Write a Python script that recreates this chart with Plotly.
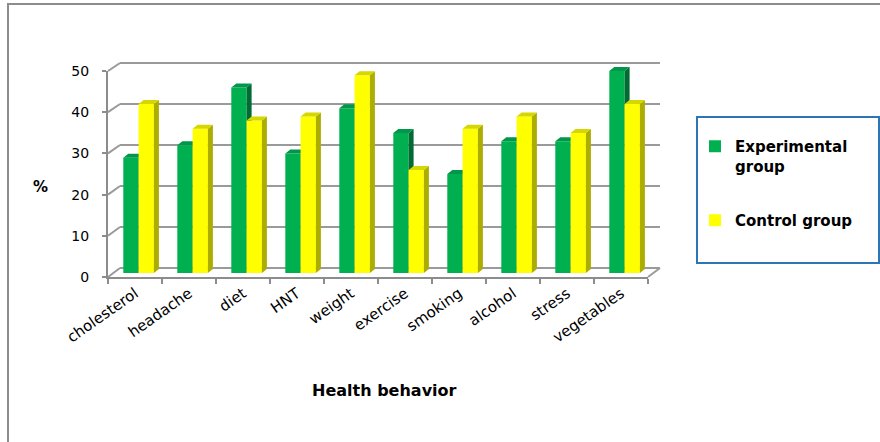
import plotly.graph_objects as go

# ---- data ----
categories = ["cholesterol", "headache", "diet", "HNT", "weight",
              "exercise", "smoking", "alcohol", "stress", "vegetables"]
experimental = [28, 31, 45, 29, 40, 34, 24, 32, 32, 49]
control = [41, 35, 37, 38, 48, 25, 35, 38, 34, 41]
series_names = ["Experimental<br>group", "Control group"]
y_ticks = [0, 10, 20, 30, 40, 50]
x_title = "Health behavior"
y_title = "%"

# ---- geometry (pixels) ----
W, H = 880, 442
def fx(p):
    return p / W
def fy(p):
    return 1 - p / H

FRONT_L, FRONT_R = 108, 648
FRONT_Y0, FRONT_PPU = 277, 4.12     # front axis: 0 at y=277
BACK_L, BACK_R = 120, 660
BACK_Y0, BACK_PPU = 268, 4.1        # back wall grid: 0 at y=268
BAR_Y0, BAR_PPU = 273, 4.12         # bar bases
CAT_PX = (FRONT_R - FRONT_L) / len(categories)

BAR_W = 15.3 / CAT_PX
OFF_G = -11.7 / CAT_PX
OFF_Y = OFF_G + BAR_W
DX = 5 / CAT_PX
DY = 4 / BAR_PPU
YMAX_BAR = 52

FONT = "DejaVu Sans"
GRAY = "#8c8c8c"
GRID = "#9a9a9a"

def faces(values, offset):
    sx, sy, tx, ty = [], [], [], []
    for i, v in enumerate(values):
        xl = i + offset
        xr = xl + BAR_W
        sx += [xr, xr + DX, xr + DX, xr, xr, None]
        sy += [0, DY, v + DY, v, 0, None]
        tx += [xl, xl + DX, xr + DX, xr, xl, None]
        ty += [v, v + DY, v + DY, v, v, None]
    return sx, sy, tx, ty

fig = go.Figure()

# placeholder traces so that the back wall and front-axis subplots get drawn
fig.add_trace(go.Scatter(x=[None], y=[None], xaxis="x", yaxis="y",
                         showlegend=False, hoverinfo="skip"))
fig.add_trace(go.Scatter(x=[None], y=[None], xaxis="x4", yaxis="y4",
                         showlegend=False, hoverinfo="skip"))

def add_series(values, offset, name, front, side, top, xa, ya, group):
    idx = list(range(len(values)))
    fig.add_trace(go.Bar(x=idx, y=values, name=name, offset=offset, width=BAR_W,
                         marker=dict(color=front, line=dict(width=0)),
                         xaxis=xa, yaxis=ya, legendgroup=group,
                         hovertext=categories, hoverinfo="text+y"))
    sx, sy, tx, ty = faces(values, offset)
    for fxs, fys, col in ((sx, sy, side), (tx, ty, top)):
        fig.add_trace(go.Scatter(x=fxs, y=fys, mode="lines", fill="toself",
                                 fillcolor=col, line=dict(width=0, color=col),
                                 xaxis=xa, yaxis=ya, showlegend=False,
                                 legendgroup=group, hoverinfo="skip"))

add_series(experimental, OFF_G, series_names[0], "#00B050", "#006B33", "#00974A", "x2", "y2", "exp")
add_series(control, OFF_Y, series_names[1], "#FFFF00", "#ADAD00", "#D6D600", "x3", "y3", "ctl")

hidden = dict(visible=False, showgrid=False, zeroline=False)
n = len(categories)

fig.update_layout(
    width=W, height=H, autosize=False,
    margin=dict(l=0, r=0, t=0, b=0, pad=0, autoexpand=False),
    paper_bgcolor="white", plot_bgcolor="rgba(0,0,0,0)",
    barmode="overlay",
    font=dict(family=FONT, color="#000000"),
    # back wall with gridlines
    xaxis=dict(domain=[fx(BACK_L), fx(BACK_R)], range=[0, 1], anchor="y",
               showgrid=False, zeroline=False, showticklabels=False, showline=False,
               ticks=""),
    yaxis=dict(domain=[fy(BACK_Y0 + 0.5 * BACK_PPU), fy(BACK_Y0 - 50.5 * BACK_PPU)],
               range=[-0.5, 50.5], anchor="x", tickmode="array", tickvals=y_ticks,
               showgrid=True, gridcolor=GRID, gridwidth=2, zeroline=False,
               showticklabels=False, showline=False, ticks=""),
    # bars (green)
    xaxis2=dict(domain=[fx(FRONT_L), fx(FRONT_R)], range=[-0.5, n - 0.5], anchor="y2", **hidden),
    yaxis2=dict(domain=[fy(BAR_Y0), fy(BAR_Y0 - YMAX_BAR * BAR_PPU)], range=[0, YMAX_BAR],
                anchor="x2", **hidden),
    # bars (yellow) overlay
    xaxis3=dict(overlaying="x2", range=[-0.5, n - 0.5], anchor="y3", **hidden),
    yaxis3=dict(overlaying="y2", range=[0, YMAX_BAR], anchor="x3", **hidden),
    # front axes
    xaxis4=dict(domain=[fx(FRONT_L), fx(FRONT_R)], range=[-0.5, n - 0.5], anchor="y4",
                tickmode="array", tickvals=list(range(n)), ticktext=categories,
                tickangle=-35, tickfont=dict(family=FONT, size=15, color="#000"),
                ticks="", showline=True, linecolor=GRAY, linewidth=2,
                showgrid=False, zeroline=False, automargin=False,
                minor=dict(tickmode="linear", tick0=-0.5, dtick=1, ticks="outside",
                           ticklen=5, tickwidth=2, tickcolor=GRAY, showgrid=False)),
    yaxis4=dict(domain=[fy(FRONT_Y0), fy(FRONT_Y0 - 50 * FRONT_PPU)], range=[0, 50],
                anchor="x4", tickmode="array", tickvals=y_ticks, ticks="outside",
                ticklen=4, tickwidth=2, automargin=False,
                tickcolor=GRAY, showline=True, linecolor=GRAY, linewidth=2,
                showgrid=False, zeroline=False, ticklabelstandoff=10,
                tickfont=dict(family=FONT, size=14, color="#000")),
    legend=dict(x=fx(695), y=fy(130), xanchor="left", yanchor="top",
                font=dict(family=FONT, size=15, color="#000", weight="bold"),
                bgcolor="rgba(0,0,0,0)", borderwidth=0, valign="top",
                tracegroupgap=32, itemwidth=30, traceorder="grouped"),
    showlegend=True,
)

shapes = []
# outer chart border
shapes.append(dict(type="rect", xref="paper", yref="paper",
                   x0=fx(8), y0=fy(460), x1=fx(900), y1=fy(4),
                   line=dict(color=GRAY, width=2), layer="below"))
# legend box
shapes.append(dict(type="rect", xref="paper", yref="paper",
                   x0=fx(697), y0=fy(263), x1=fx(879), y1=fy(117),
                   line=dict(color="#2E75B6", width=2)))
# left wall diagonals
for v in y_ticks:
    shapes.append(dict(type="line", xref="paper", yref="paper",
                       x0=fx(FRONT_L), y0=fy(FRONT_Y0 - v * FRONT_PPU),
                       x1=fx(BACK_L), y1=fy(BACK_Y0 - v * BACK_PPU),
                       line=dict(color=GRID, width=2), layer="below"))
# floor right edge
shapes.append(dict(type="line", xref="paper", yref="paper",
                   x0=fx(FRONT_R), y0=fy(FRONT_Y0), x1=fx(BACK_R), y1=fy(BACK_Y0),
                   line=dict(color=GRID, width=2), layer="below"))
fig.update_layout(shapes=shapes)

fig.add_annotation(text=x_title, xref="paper", yref="paper", x=fx(384), y=fy(390),
                   xanchor="center", yanchor="middle", showarrow=False,
                   font=dict(family=FONT, size=16, color="#000", weight="bold"))
fig.add_annotation(text=y_title, xref="paper", yref="paper", x=fx(40), y=fy(187),
                   xanchor="center", yanchor="middle", showarrow=False,
                   font=dict(family=FONT, size=15, color="#000", weight="bold"))

fig.write_html("out.html")
